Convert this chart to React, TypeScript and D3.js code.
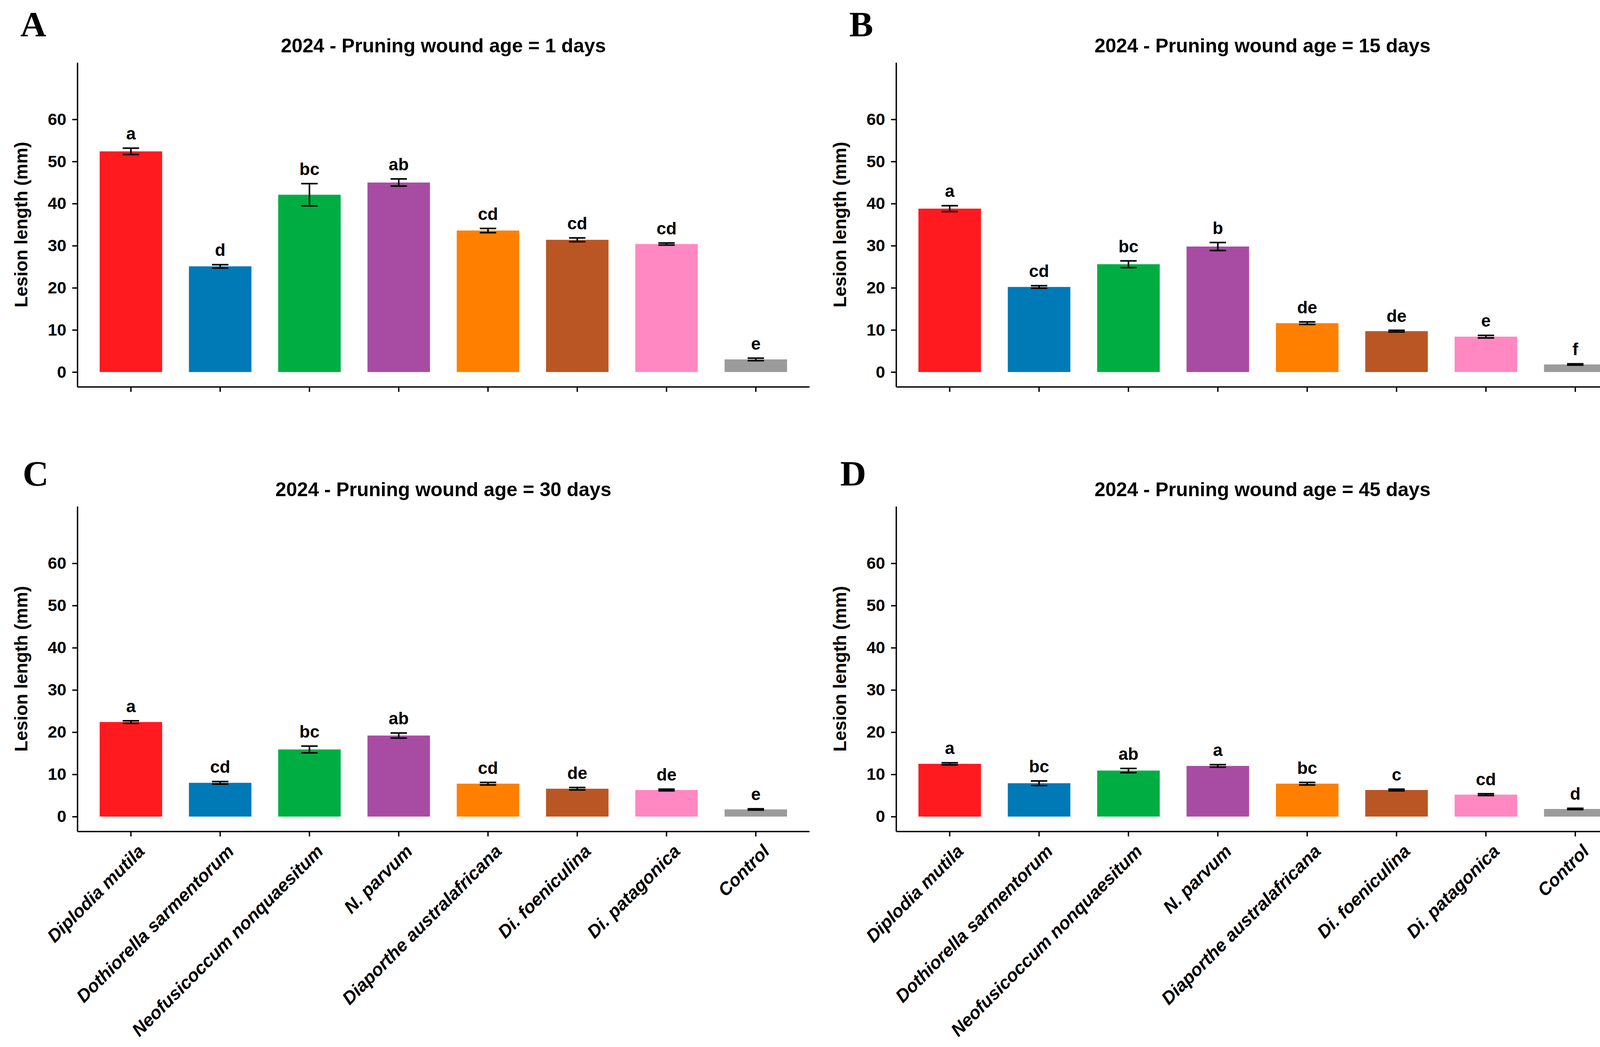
import { useEffect, useRef } from "react";
import * as d3 from "d3";

const CATEGORIES = [
  "Diplodia mutila",
  "Dothiorella sarmentorum",
  "Neofusicoccum nonquaesitum",
  "N. parvum",
  "Diaporthe australafricana",
  "Di. foeniculina",
  "Di. patagonica",
  "Control",
];
const COLORS = ["#FF1A1F", "#0079B7", "#00AD43", "#A84CA3", "#FF8000", "#BA5624", "#FF88C2", "#9B9B9B"];
const WOUND_AGES = [1, 15, 30, 45];
const PANEL_LETTERS = ["A", "B", "C", "D"];
const Y_TICKS = [0, 10, 20, 30, 40, 50, 60];

// means and standard errors (mm)
const MEAN_1D = [52.4, 25.1, 42.1, 45.0, 33.6, 31.4, 30.4, 3.0];
const SE_1D = [0.75, 0.4, 2.65, 0.85, 0.5, 0.45, 0.25, 0.3];
const LETTERS_1D = ["a", "d", "bc", "ab", "cd", "cd", "cd", "e"];

const MEAN_15D = [38.8, 20.2, 25.6, 29.8, 11.6, 9.7, 8.4, 1.8];
const SE_15D = [0.7, 0.3, 0.8, 0.95, 0.3, 0.2, 0.3, 0.15];
const LETTERS_15D = ["a", "cd", "bc", "b", "de", "de", "e", "f"];

const MEAN_30D = [22.4, 8.0, 15.9, 19.2, 7.8, 6.6, 6.3, 1.7];
const SE_30D = [0.3, 0.3, 0.8, 0.6, 0.3, 0.3, 0.2, 0.15];
const LETTERS_30D = ["a", "cd", "bc", "ab", "cd", "de", "de", "e"];

const MEAN_45D = [12.5, 7.9, 10.9, 12.0, 7.8, 6.3, 5.2, 1.8];
const SE_45D = [0.25, 0.55, 0.5, 0.3, 0.3, 0.2, 0.2, 0.15];
const LETTERS_45D = ["a", "bc", "ab", "a", "bc", "c", "cd", "d"];

const MEANS = [MEAN_1D, MEAN_15D, MEAN_30D, MEAN_45D];
const SES = [SE_1D, SE_15D, SE_30D, SE_45D];
const LETTERS = [LETTERS_1D, LETTERS_15D, LETTERS_30D, LETTERS_45D];

const W = 4198;
const H = 2680;
const SANS = "'Liberation Sans', Arial, sans-serif";
const SERIF = "'Liberation Serif', 'Times New Roman', serif";

// panel boxes (pixels)
const LAYOUT = [
  { left: 198, right: 2072, top: 160, bottom: 990, lx: 52, ly: 93, showX: false },
  { left: 2294, right: 4170, top: 160, bottom: 990, lx: 2174, ly: 93, showX: false },
  { left: 198, right: 2072, top: 1296, bottom: 2128, lx: 58, ly: 1243, showX: true },
  { left: 2294, right: 4170, top: 1296, bottom: 2128, lx: 2151, ly: 1243, showX: true },
];

export default function App() {
  const svgRef = useRef<SVGSVGElement>(null);

  useEffect(() => {
    const svg = d3.select(svgRef.current);
    svg.selectAll("*").remove();

    svg.append("rect").attr("width", W).attr("height", H).attr("fill", "#ffffff");

    LAYOUT.forEach((L, p) => {
      const means = MEANS[p];
      const ses = SES[p];
      const letters = LETTERS[p];

      const x = d3.scaleBand<string>()
        .domain(CATEGORIES)
        .range([L.left, L.right])
        .paddingInner(0.3)
        .paddingOuter(0.25);

      const y = d3.scaleLinear().domain([-3.5, 73.5]).range([L.bottom, L.top]);

      const g = svg.append("g");

      // panel letter
      g.append("text")
        .attr("x", L.lx)
        .attr("y", L.ly)
        .attr("font-family", SERIF)
        .attr("font-weight", "bold")
        .attr("font-size", "92px")
        .attr("fill", "#000")
        .text(PANEL_LETTERS[p]);

      // title
      g.append("text")
        .attr("x", (L.left + L.right) / 2)
        .attr("y", L.top - 26)
        .attr("text-anchor", "middle")
        .attr("font-family", SANS)
        .attr("font-weight", "bold")
        .attr("font-size", "50px")
        .attr("fill", "#000")
        .text(`2024 - Pruning wound age = ${WOUND_AGES[p]} days`);

      // bars
      CATEGORIES.forEach((c, i) => {
        g.append("rect")
          .attr("x", x(c)!)
          .attr("y", y(means[i]))
          .attr("width", x.bandwidth())
          .attr("height", y(0) - y(means[i]))
          .attr("fill", COLORS[i]);
      });

      // error bars
      const capHalf = 21;
      CATEGORIES.forEach((c, i) => {
        const cx = x(c)! + x.bandwidth() / 2;
        const hi = y(means[i] + ses[i]);
        const lo = y(means[i] - ses[i]);
        const eg = g.append("g").attr("stroke", "#000").attr("stroke-width", 4);
        eg.append("line").attr("x1", cx).attr("x2", cx).attr("y1", hi).attr("y2", lo);
        eg.append("line").attr("x1", cx - capHalf).attr("x2", cx + capHalf).attr("y1", hi).attr("y2", hi);
        eg.append("line").attr("x1", cx - capHalf).attr("x2", cx + capHalf).attr("y1", lo).attr("y2", lo);

        g.append("text")
          .attr("x", cx)
          .attr("y", hi - 22)
          .attr("text-anchor", "middle")
          .attr("font-family", SANS)
          .attr("font-weight", "bold")
          .attr("font-size", "44px")
          .attr("fill", "#000")
          .text(letters[i]);
      });

      // y axis
      const yAxis = g.append("g")
        .attr("transform", `translate(${L.left},0)`)
        .call(d3.axisLeft(y).tickValues(Y_TICKS).tickSize(13).tickSizeOuter(0).tickPadding(15));
      yAxis.selectAll("path, line").attr("stroke", "#000").attr("stroke-width", 3.5);
      yAxis.selectAll("text")
        .attr("font-family", SANS)
        .attr("font-weight", "bold")
        .attr("font-size", "43px")
        .attr("fill", "#000");

      // x axis
      const xAxis = g.append("g")
        .attr("transform", `translate(0,${L.bottom})`)
        .call(d3.axisBottom(x).tickSize(13).tickSizeOuter(0));
      xAxis.selectAll("path, line").attr("stroke", "#000").attr("stroke-width", 3.5);
      xAxis.selectAll("text").remove();
      if (L.showX) {
        xAxis.selectAll<SVGGElement, string>(".tick")
          .append("text")
          .attr("transform", "translate(38,54) rotate(-45)")
          .attr("text-anchor", "end")
          .attr("font-family", SANS)
          .attr("font-weight", "bold")
          .attr("font-style", "italic")
          .attr("font-size", "46px")
          .attr("fill", "#000")
          .text((d) => d);
      }

      // y axis title
      g.append("text")
        .attr("transform", `translate(${L.left - 128},${(L.top + L.bottom) / 2}) rotate(-90)`)
        .attr("text-anchor", "middle")
        .attr("font-family", SANS)
        .attr("font-weight", "bold")
        .attr("font-size", "46px")
        .attr("fill", "#000")
        .text("Lesion length (mm)");
    });
  }, []);

  return (
    <svg
      ref={svgRef}
      width={W}
      height={H}
      style={{ position: "absolute", left: 0, top: 0, display: "block" }}
    />
  );
}
